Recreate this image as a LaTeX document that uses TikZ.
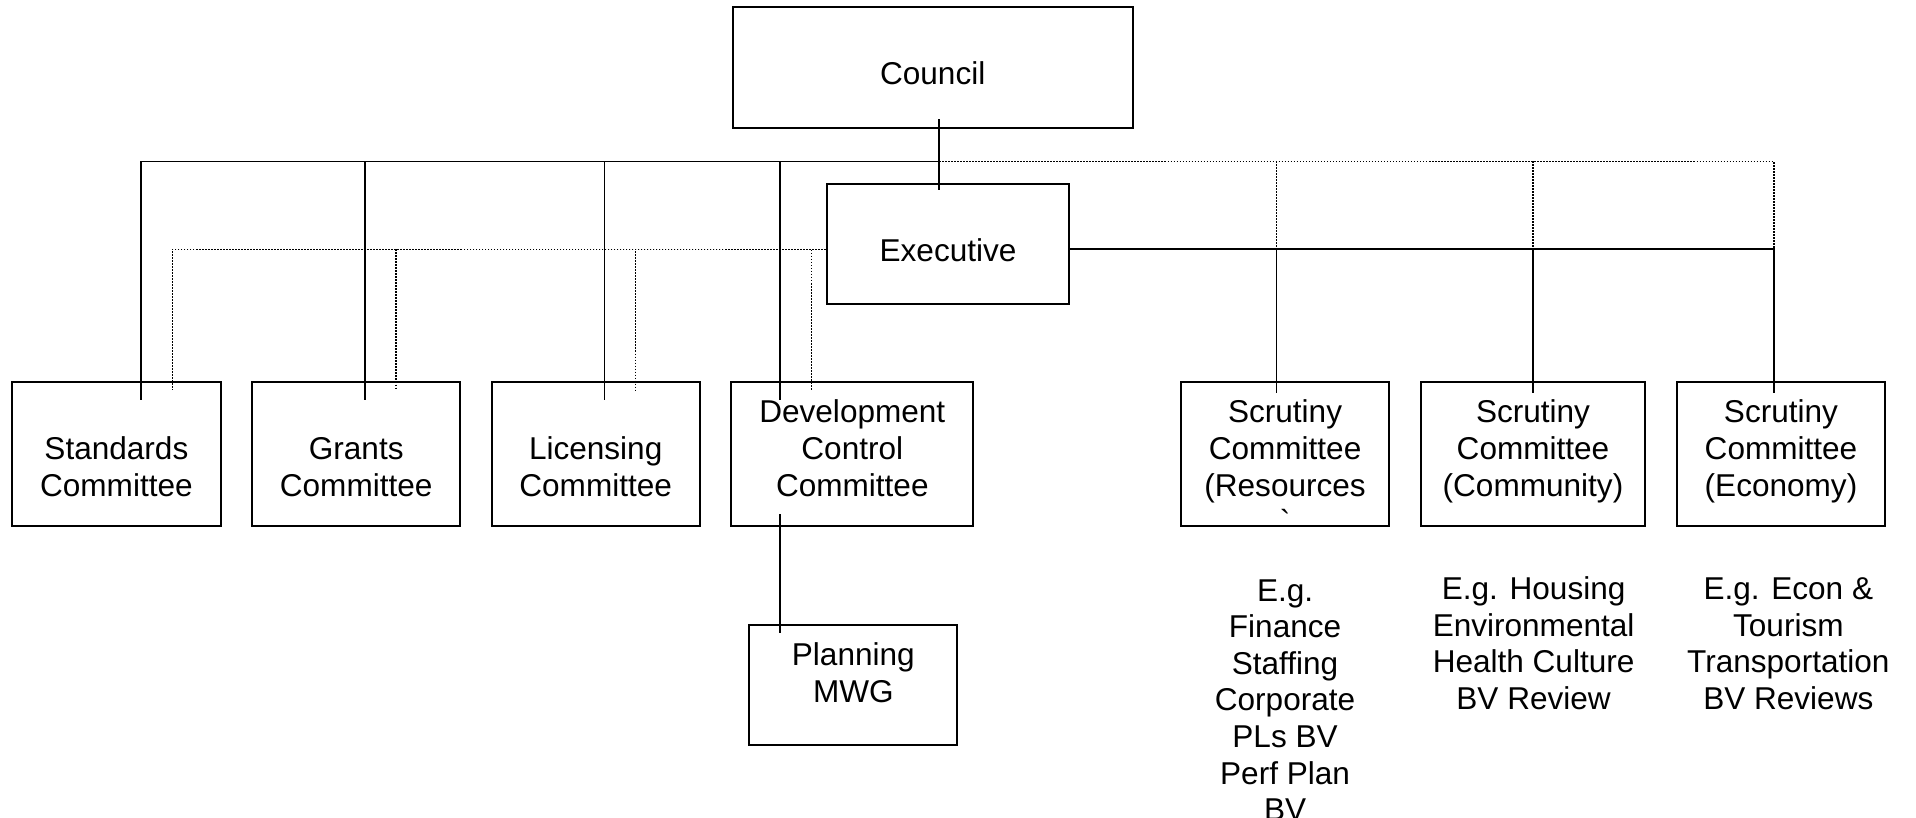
\documentclass[tikz,border=0pt]{standalone}
\usepackage{fontspec}
\setmainfont{Liberation Sans}
\usetikzlibrary{calc,fit}
\begin{document}
\begin{tikzpicture}[x=0.02cm,y=-0.02cm,
  box/.style={draw,line width=0.9pt,inner sep=0pt,rectangle},
  lbl/.style={align=center,inner sep=0pt,anchor=base,font=\fontsize{14.7}{17.07}\selectfont},
  conn/.style={line width=0.7pt},
  dots/.style={line width=0.6pt,dash pattern=on 0.7pt off 0.7pt}]
\useasboundingbox (0,0) rectangle (1568,669);
\clip (0,0) rectangle (1568,669);

% boxes
\node[box,fit={(599.5,6)(927.1,104.5)}] (council) {};
\node[box,fit={(676.5,150.9)(875.2,249)}] (exec) {};
\node[box,fit={(10,312.9)(180.5,430.5)}] (std) {};
\node[box,fit={(206.5,312.9)(376.5,430.5)}] (grants) {};
\node[box,fit={(402.5,312.9)(572.5,430.5)}] (lic) {};
\node[box,fit={(598.5,312.9)(796.5,430.5)}] (dev) {};
\node[box,fit={(613.3,511.5)(783.4,609.7)}] (plan) {};
\node[box,fit={(966.8,312.9)(1136.5,430.5)}] (scr1) {};
\node[box,fit={(1162.9,312.9)(1346.2,430.5)}] (scr2) {};
\node[box,fit={(1372.7,312.9)(1542.3,430.5)}] (scr3) {};

% box texts (anchored at the baseline of the last line)
\node[lbl] (tcouncil) at ($(council.center)+(0,14.3)$) {Council};
\node[lbl] (texec) at ($(exec.center)+(0,14.2)$) {Executive};
\node[lbl] (tstd) at ($(std.center)+(0,34.3)$) {Standards\\Committee};
\node[lbl] (tgrants) at ($(grants.center)+(0,34.3)$) {Grants\\Committee};
\node[lbl] (tlic) at ($(lic.center)+(0,34.3)$) {Licensing\\Committee};
\node[lbl] (tdev) at ($(dev.center)+(0,34.3)$) {Development\\Control\\Committee};
\node[lbl] (tplan) at ($(plan.center)+(0,13.9)$) {Planning\\MWG};
\node[lbl] (tscr1) at ($(scr1.center)+(0,64.3)$) {Scrutiny\\Committee\\(Resources\\\textasciigrave};
\node[lbl] (tscr2) at ($(scr2.center)+(0,34.3)$) {Scrutiny\\Committee\\(Community)};
\node[lbl] (tscr3) at ($(scr3.center)+(0,34.3)$) {Scrutiny\\Committee\\(Economy)};

% remits below the scrutiny committees
\node[lbl] (eg1) at ($(scr1.south)+(0,240.5)$) {E.g.\\Finance\\Staffing\\Corporate\\PLs BV\\Perf Plan\\BV};
\node[lbl] (eg2) at ($(scr2.south)+(0.5,149.2)$) {E.g. Housing\\Environmental\\Health Culture\\BV Review};
\node[lbl] (eg3) at ($(scr3.south)+(6,149.2)$) {E.g. Econ \&\\Tourism\\Transportation\\BV Reviews};

% junction points
\coordinate (busL) at ($(council.south)+(5.2,26.7)$);
\coordinate (busE) at ($(exec.west)+(0,4)$);
\coordinate (busR) at ($(exec.east)+(0,4)$);
\coordinate (r1) at ($(scr1.north)+(-6.95,9.7)$);
\coordinate (r2) at ($(scr2.north)+(0,9.7)$);
\coordinate (r3) at ($(scr3.north)+(-5.8,9.7)$);

% council to executive
\draw[conn] ($(council.south)+(5.2,-7.7)$) -- ($(exec.north)+(-7.35,5.4)$);

% council to the regulatory committees
\draw[conn] (busL) -| ($(std.north)+(20.25,15.1)$);
\draw[conn] (busL) -| ($(grants.north)+(7,15.1)$);
\draw[conn] (busL) -| ($(lic.north)+(7,15.1)$);
\draw[conn] (busL) -| ($(dev.north)+(-59,15.1)$);

% executive links to the regulatory committees
\draw[dots] (busE) -| ($(std.north)+(45.75,7.1)$);
\draw[dots] (busE) -| ($(grants.north)+(32.5,7.1)$);
\draw[dots] (busE) -| ($(lic.north)+(32.5,7.1)$);
\draw[dots] (busE) -| ($(dev.north)+(-33.5,7.1)$);

% executive to scrutiny
\draw[conn] (busR) -| (r1);
\draw[conn] (busR) -| (r2);
\draw[conn] (busR) -| (r3);

% council links to scrutiny
\draw[dots] (busL) -| (r3 |- busR);
\draw[dots] (r1 |- busL) -- (r1 |- busR);
\draw[dots] (r2 |- busL) -- (r2 |- busR);

% development control to planning
\draw[conn] ($(dev.south)+(-59,-10.5)$) -- ($(plan.north)+(-59.85,7.5)$);
\end{tikzpicture}
\end{document}
